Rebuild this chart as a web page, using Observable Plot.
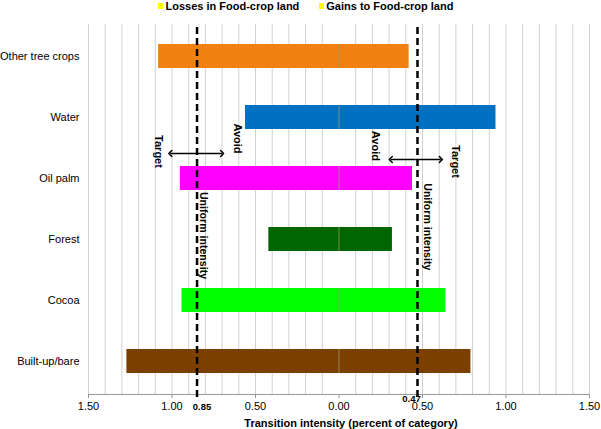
<!DOCTYPE html>
<html>
<head>
<meta charset="utf-8">
<script src="https://cdn.jsdelivr.net/npm/d3@7"></script>
<script src="https://cdn.jsdelivr.net/npm/@observablehq/plot@0.6"></script>
<style>
  html, body { margin: 0; padding: 0; background: #fff; }
  body { width: 601px; height: 429px; overflow: hidden; font-family: "Liberation Sans", Arial, sans-serif; }
  #legend { position: relative; height: 14px; font-weight: bold; font-size: 11px; line-height: 12px; color: #000; }
  #legend .item { position: absolute; top: 0; white-space: nowrap; }
  #legend .sw { position: absolute; top: 3px; width: 5px; height: 6px; background: #FFFF00; }
  #legend .lbl { position: absolute; top: 0; }
  svg { display: block; }
</style>
</head>
<body>
<div id="legend"></div>
<div id="chart"></div>
<script>
// ---- data ----
const categories = ["Other tree crops", "Water", "Oil palm", "Forest", "Cocoa", "Built-up/bare"];
const losses = [1.08, 0.56, 0.95, 0.42, 0.94, 1.27];   // losses in food-crop land (left side)
const gains  = [0.42, 0.94, 0.44, 0.32, 0.64, 0.79];   // gains to food-crop land (right side)
const barColors = ["#F0800F", "#0070C0", "#FF00FF", "#006600", "#00FF00", "#7B3F00"];
const uniformLoss = 0.85;
const uniformGain = 0.47;
const xTickValues = [-1.5, -1, -0.5, 0, 0.5, 1, 1.5];
const legendLabels = ["Losses in Food-crop land", "Gains to Food-crop land"];
const legendColor = "#FFFF00";
const axisTitle = "Transition intensity (percent of category)";
const arrowLoss = [{x1: -0.855, x2: -1.01, cat: "Oil palm"}, {x1: -0.855, x2: -0.70, cat: "Oil palm"}];
const arrowGain = [{x1: 0.46, x2: 0.31, cat: "Oil palm"}, {x1: 0.46, x2: 0.61, cat: "Oil palm"}];
const notesLoss = [{x: -1.081, cat: "Oil palm", text: "Target"}];
const notesLoss2 = [{x: -0.61, cat: "Oil palm", text: "Avoid"}];
const notesGain = [{x: 0.216, cat: "Oil palm", text: "Avoid"}];
const notesGain2 = [{x: 0.698, cat: "Oil palm", text: "Target"}];
const uniformNoteLoss = [{x: -0.81, cat: "Forest", text: "Uniform intensity"}];
const uniformNoteGain = [{x: 0.531, cat: "Forest", text: "Uniform intensity"}];

// ---- legend ----
const legendPos = [158, 318.8];
const legend = d3.select("#legend");
legendLabels.forEach((l, i) => {
  const it = legend.append("div").attr("class", "item").style("left", legendPos[i] + "px");
  it.append("div").attr("class", "sw").style("left", "0px").style("background", legendColor);
  it.append("div").attr("class", "lbl").style("left", "7.5px").text(l);
});

// ---- table ----
const rows = categories.map((c, i) => ({category: c, loss: -losses[i], gain: gains[i], color: barColors[i]}));
const gridValues = d3.range(-15, 16).filter(k => k !== 0).map(k => k / 10);

const fmt = d => Math.abs(d).toFixed(2);

const chart = Plot.plot({
  width: 601,
  height: 415,
  marginTop: 10,
  marginBottom: 35,
  marginLeft: 88,
  marginRight: 12,
  style: {fontFamily: "'Liberation Sans', Arial, sans-serif", fontSize: "11px", color: "#000", background: "#fff"},
  x: {domain: [-1.5, 1.5], ticks: xTickValues, tickFormat: fmt, tickSize: 4, tickPadding: 4, label: null, line: true},
  y: {domain: categories, paddingInner: 0.6, paddingOuter: 0.3, tickSize: 0, tickPadding: 9, label: null},
  color: {type: "identity"},
  marks: [
    Plot.ruleX(gridValues, {stroke: "#d0d0d0", strokeWidth: 1}),
    Plot.barX(rows, {x1: "loss", x2: "gain", y: "category", fill: "color"}),
    Plot.tickX(rows, {x: () => 0, y: "category", stroke: "#8f9c6c", strokeOpacity: 0.8, strokeWidth: 1}),
    Plot.ruleX([-uniformLoss, uniformGain], {stroke: "#000", strokeWidth: 2.5, strokeDasharray: "7,4", insetTop: 3, insetBottom: -5}),
    Plot.link(arrowLoss, {x1: "x1", x2: "x2", y1: "cat", y2: "cat", dy: -25, stroke: "#000", strokeWidth: 1.5, markerEnd: "arrow"}),
    Plot.link(arrowGain, {x1: "x1", x2: "x2", y1: "cat", y2: "cat", dy: -19, stroke: "#000", strokeWidth: 1.5, markerEnd: "arrow"}),
    Plot.text(notesLoss, {x: "x", y: "cat", text: "text", rotate: 90, dy: -27, fontWeight: "bold", fontSize: 11}),
    Plot.text(notesLoss2, {x: "x", y: "cat", text: "text", rotate: 90, dy: -40, fontWeight: "bold", fontSize: 11}),
    Plot.text(notesGain, {x: "x", y: "cat", text: "text", rotate: 90, dy: -32.6, fontWeight: "bold", fontSize: 11}),
    Plot.text(notesGain2, {x: "x", y: "cat", text: "text", rotate: 90, dy: -17, fontWeight: "bold", fontSize: 11}),
    Plot.text(uniformNoteLoss, {x: "x", y: "cat", text: "text", rotate: 90, dy: -4, fontWeight: "bold", fontSize: 10.6}),
    Plot.text(uniformNoteGain, {x: "x", y: "cat", text: "text", rotate: 90, dy: -12.7, fontWeight: "bold", fontSize: 10.6}),
    Plot.text([-uniformLoss], {x: d => d, text: d => fmt(d), frameAnchor: "bottom", dy: 15, dx: 5, fontWeight: "bold", fontSize: 9.5}),
    Plot.text([uniformGain], {x: d => d, text: d => fmt(d), frameAnchor: "bottom", dy: 7, dx: -6, fontWeight: "bold", fontSize: 9.5}),
    Plot.text([axisTitle], {text: d => d, frameAnchor: "bottom", dy: 32, dx: 12, fontWeight: "bold", fontSize: 11})
  ]
});
document.getElementById("chart").appendChild(chart);
// grey axis line / ticks like the reference
d3.select(chart).selectAll('[aria-label="x-axis"] line, [aria-label="x-axis"] path, [aria-label="x-axis tick"] path, [aria-label="frame"]').attr("stroke", "#999");
</script>
</body>
</html>
